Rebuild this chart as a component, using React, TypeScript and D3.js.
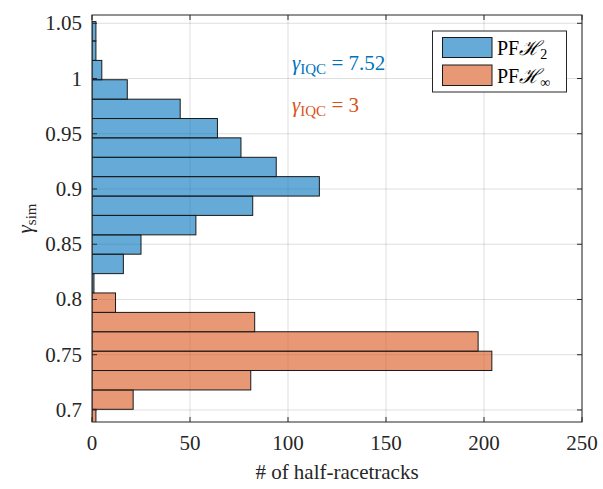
import React from "react";
import * as d3 from "d3";

// Histogram of gamma_sim, shared bin edges
const EDGES = [
  0.683, 0.7006, 0.7181, 0.7357, 0.7532, 0.7708, 0.7883, 0.8059, 0.8234, 0.841, 0.8585,
  0.8761, 0.8936, 0.9112, 0.9287, 0.9463, 0.9638, 0.9813, 0.9989, 1.0164, 1.034, 1.0515,
];
const H2_COUNTS = [0, 0, 0, 0, 0, 0, 0, 1, 16, 25, 53, 82, 116, 94, 76, 64, 45, 18, 5, 2, 2];
const HINF_COUNTS = [2, 21, 81, 204, 197, 83, 12, 0, 0, 0, 0, 0, 0, 0, 0, 0, 0, 0, 0, 0, 0];

const X_TICKS = [0, 50, 100, 150, 200, 250];
const Y_TICKS = [0.7, 0.75, 0.8, 0.85, 0.9, 0.95, 1, 1.05];
const Y_TICK_LABELS = ["0.7", "0.75", "0.8", "0.85", "0.9", "0.95", "1", "1.05"];

const W = 603;
const H = 489;
const BLUE = "#0072BD";
const ORANGE = "#D95319";
// the serif face only resolves below 22px in this browser, so keep text at 21px or less
const TXT = { fontFamily: "'Liberation Serif', 'Times New Roman', Tinos, serif" };
const FS = 21;

export default function App() {
  const left = 92, right = 582, top = 15, bottom = 422;
  const x = d3.scaleLinear().domain([0, 250]).range([left, right]);
  const y = d3.scaleLinear().domain([0.6891, 1.0575]).range([bottom, top]);
  const tick = 5;

  const bars = (counts: number[], color: string, key: string) =>
    counts.map((c, i) =>
      c > 0 ? (
        <rect
          key={key + i}
          x={x(0)}
          y={y(EDGES[i + 1])}
          width={x(c) - x(0)}
          height={y(EDGES[i]) - y(EDGES[i + 1])}
          fill={color}
          fillOpacity={0.6}
          stroke="#1a1a1a"
          strokeWidth={1}
        />
      ) : null
    );

  return (
    <svg
      width={W}
      height={H}
      lang="en"
      xmlLang="en"
      style={{ position: "absolute", left: 0, top: 0, background: "#fff" }}
    >
      <defs>
        <clipPath id="plot">
          <rect x={left} y={top} width={right - left} height={bottom - top} />
        </clipPath>
      </defs>
      <rect x={left} y={top} width={right - left} height={bottom - top} fill="#fff" />

      {/* grid */}
      {X_TICKS.map((t) => (
        <line key={"gx" + t} x1={x(t)} x2={x(t)} y1={top} y2={bottom} stroke="#262626" strokeOpacity={0.15} />
      ))}
      {Y_TICKS.map((t) => (
        <line key={"gy" + t} x1={left} x2={right} y1={y(t)} y2={y(t)} stroke="#262626" strokeOpacity={0.15} />
      ))}

      <g clipPath="url(#plot)">
        {bars(H2_COUNTS, BLUE, "b")}
        {bars(HINF_COUNTS, ORANGE, "o")}
      </g>

      {/* ticks */}
      {X_TICKS.map((t) => (
        <g key={"tx" + t} stroke="#262626">
          <line x1={x(t)} x2={x(t)} y1={bottom} y2={bottom - tick} />
          <line x1={x(t)} x2={x(t)} y1={top} y2={top + tick} />
        </g>
      ))}
      {Y_TICKS.map((t) => (
        <g key={"ty" + t} stroke="#262626">
          <line x1={left} x2={left + tick} y1={y(t)} y2={y(t)} />
          <line x1={right} x2={right - tick} y1={y(t)} y2={y(t)} />
        </g>
      ))}
      <rect x={left} y={top} width={right - left} height={bottom - top} fill="none" stroke="#262626" strokeWidth={1} />

      {/* tick labels */}
      {X_TICKS.map((t) => (
        <text key={"lx" + t} x={x(t)} y={450} textAnchor="middle" fontSize={FS} fill="#262626" style={TXT}>
          {t}
        </text>
      ))}
      {Y_TICKS.map((t, i) => (
        <text key={"ly" + t} x={82} y={y(t) + 7} textAnchor="end" fontSize={FS} fill="#262626" style={TXT}>
          {Y_TICK_LABELS[i]}
        </text>
      ))}

      {/* axis labels */}
      <text x={(left + right) / 2} y={479} textAnchor="middle" fontSize={FS} fill="#262626" style={TXT}>
        # of half-racetracks
      </text>
      <text transform={`translate(32,${(top + bottom) / 2}) rotate(-90)`} textAnchor="middle" fontSize={FS} fill="#262626" style={TXT}>
        <tspan fontStyle="italic">γ</tspan>
        <tspan fontSize={15} dy={4}>sim</tspan>
      </text>

      {/* annotations */}
      <text x={292} y={70} fontSize={FS} fill={BLUE} style={TXT}>
        <tspan fontStyle="italic">γ</tspan>
        <tspan fontSize={15} dy={4}>IQC</tspan>
        <tspan dy={-4}> = 7.52</tspan>
      </text>
      <text x={292} y={112} fontSize={FS} fill={ORANGE} style={TXT}>
        <tspan fontStyle="italic">γ</tspan>
        <tspan fontSize={15} dy={4}>IQC</tspan>
        <tspan dy={-4}> = 3</tspan>
      </text>

      {/* legend */}
      <rect x={432.5} y={31} width={134} height={61} fill="#fff" stroke="#262626" strokeWidth={1} />
      <rect x={442.5} y={37.5} width={49.5} height={20} fill={BLUE} fillOpacity={0.6} stroke="#1a1a1a" />
      <rect x={442.5} y={65} width={49.5} height={20.5} fill={ORANGE} fillOpacity={0.6} stroke="#1a1a1a" />
      <text x={497} y={55} fontSize={20} fill="#000" style={TXT}>
        PF<tspan fontStyle="italic">ℋ</tspan>
        <tspan fontSize={14} dy={4}>2</tspan>
      </text>
      <text x={497} y={83} fontSize={20} fill="#000" style={TXT}>
        PF<tspan fontStyle="italic">ℋ</tspan>
        <tspan fontSize={14} dy={4}>∞</tspan>
      </text>
    </svg>
  );
}
